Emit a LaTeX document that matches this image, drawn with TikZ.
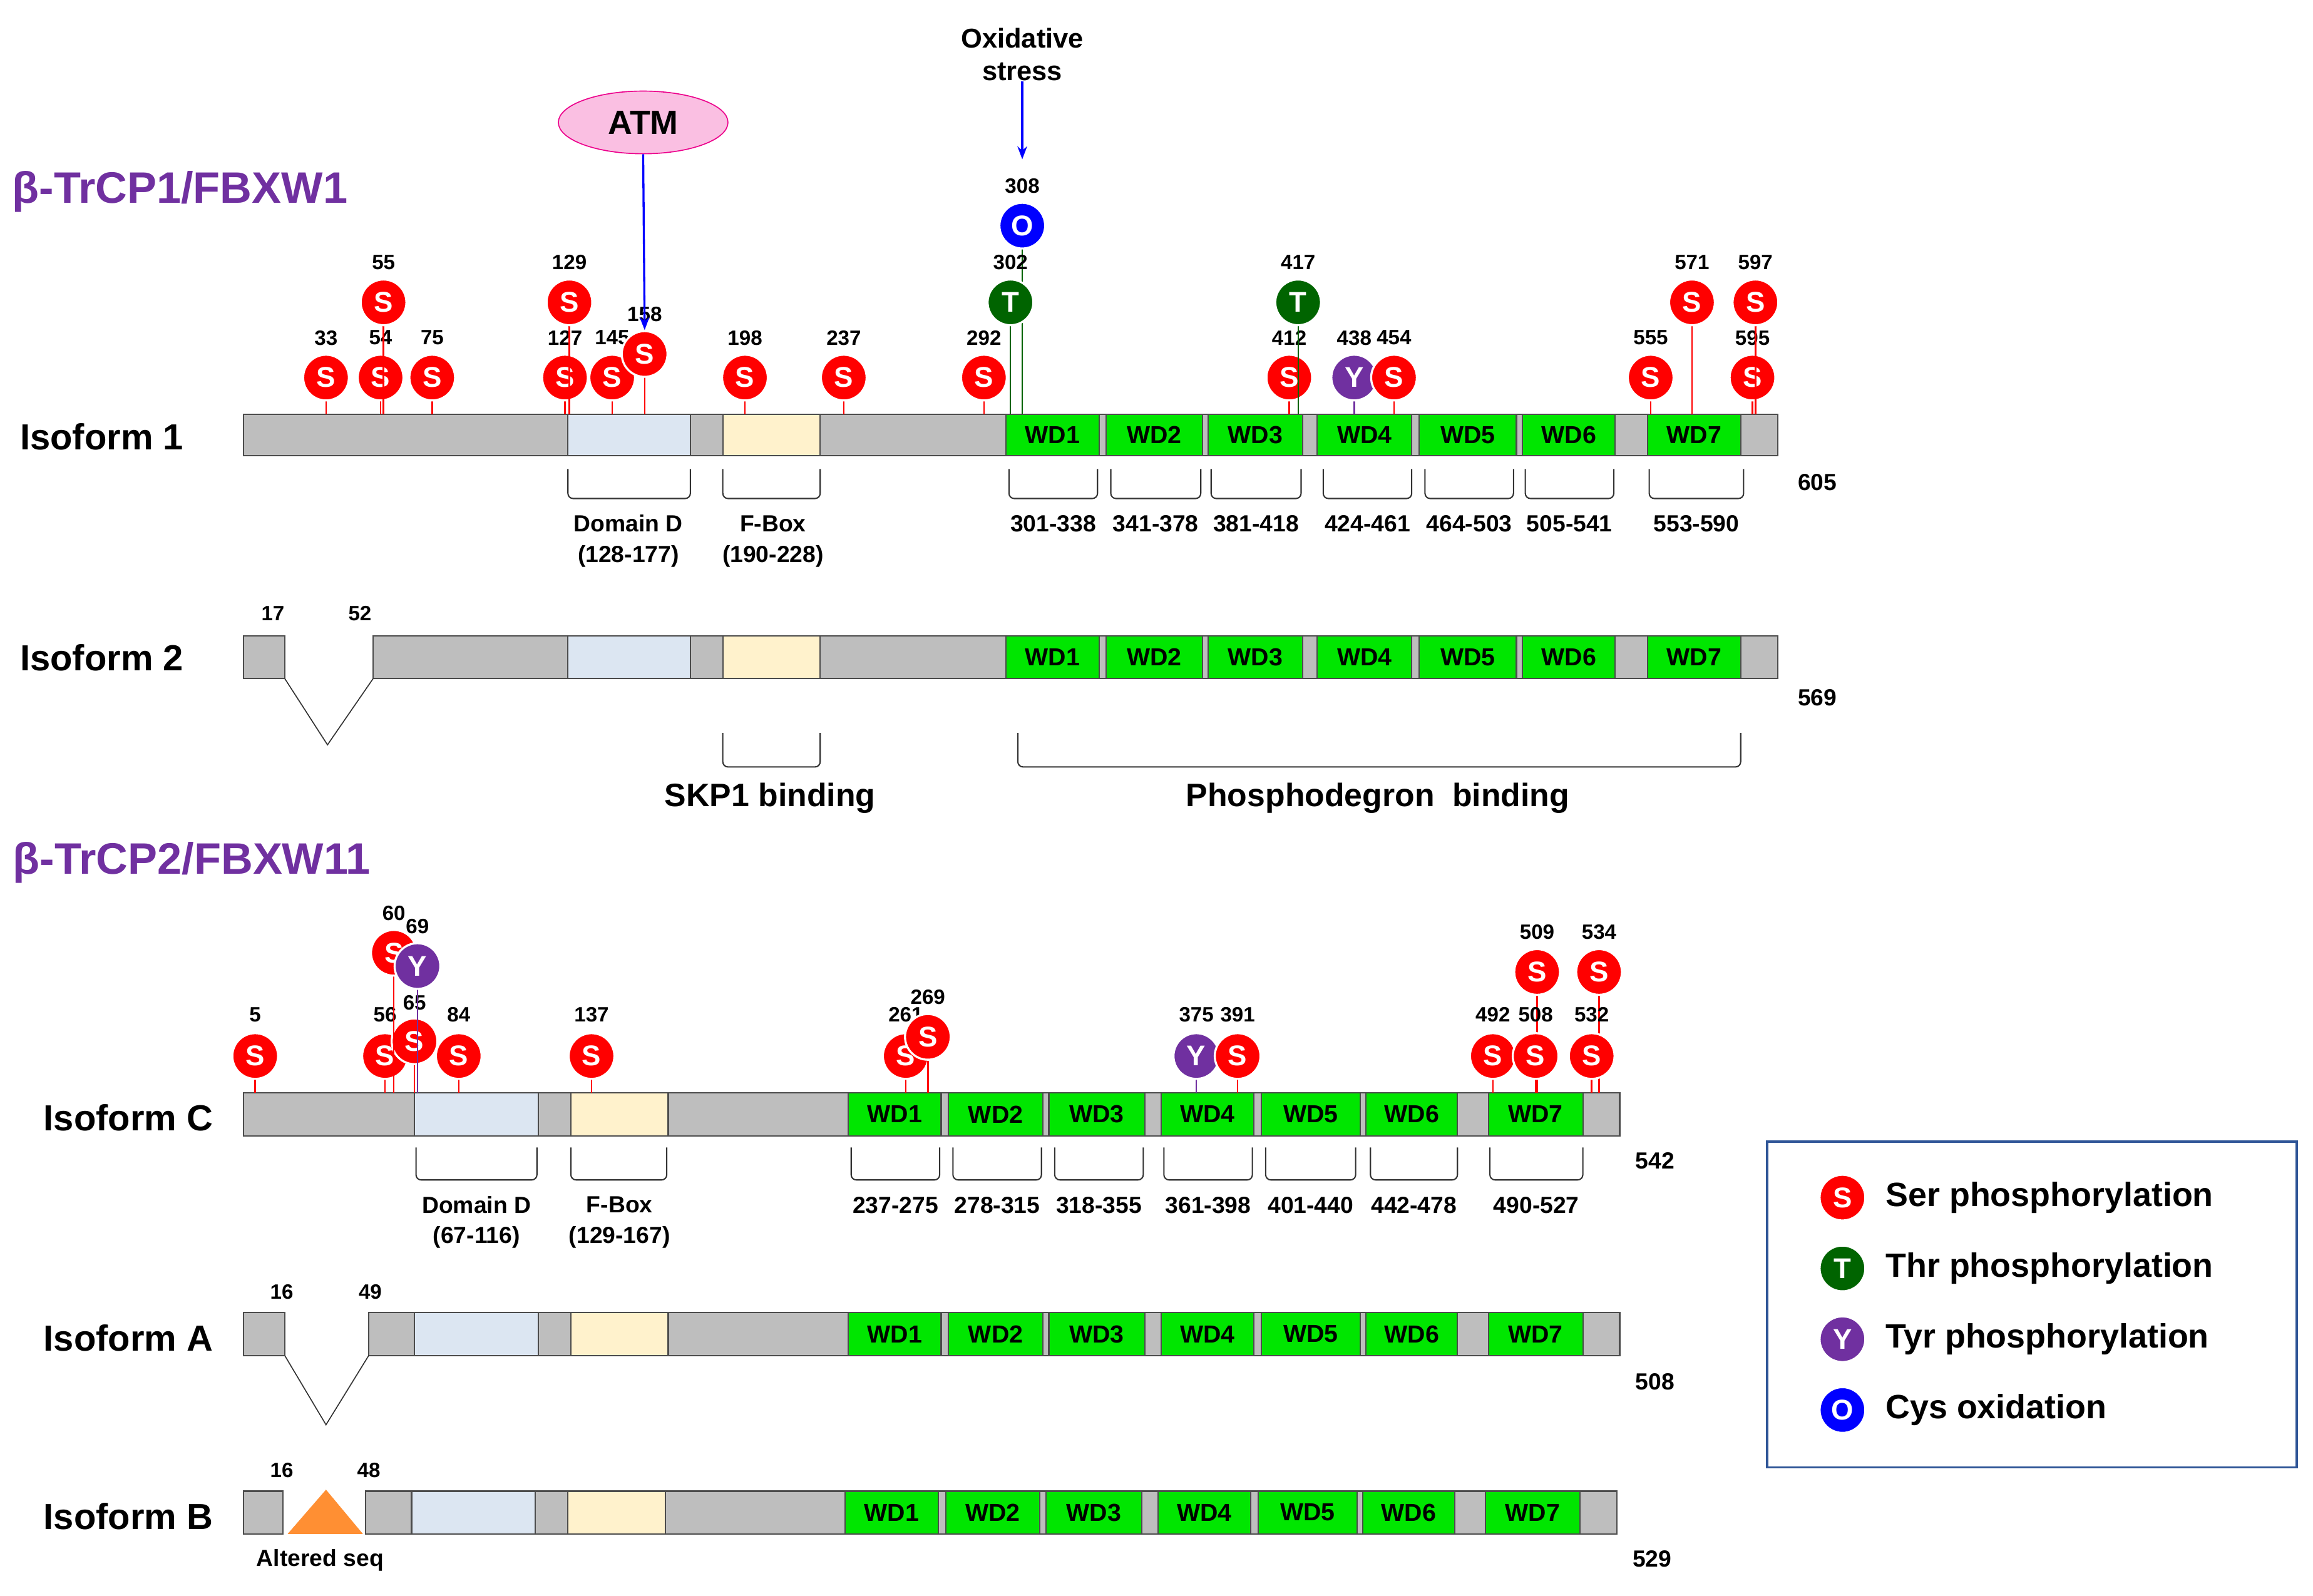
\documentclass[tikz,border=0pt]{standalone}
\usepackage{fontspec}
\setmainfont{Liberation Sans}
\usetikzlibrary{arrows.meta,shapes.geometric}
\definecolor{pur}{RGB}{112,48,160}
\definecolor{dgreen}{RGB}{0,100,0}
\definecolor{wdg}{RGB}{0,230,0}
\definecolor{dom}{RGB}{220,230,242}
\definecolor{fbx}{RGB}{255,242,204}
\definecolor{gry}{RGB}{190,190,190}
\begin{document}
\begin{tikzpicture}[x=0.02cm,y=-0.02cm,
 site/.style={circle,draw=white,line width=0.8pt,minimum size=0.62cm,inner sep=0,text=white,font=\bfseries\fontsize{11}{11}\selectfont},
 ser/.style={site,fill=red}, thr/.style={site,fill=dgreen}, tyr/.style={site,fill=pur}, cys/.style={site,fill=blue,draw=white},
 num/.style={font=\bfseries\fontsize{8}{8}\selectfont,inner sep=0},
 seg/.style={draw=black!70,line width=0.5pt},
 wdt/.style={font=\bfseries\fontsize{9.5}{9.5}\selectfont},
 rng/.style={font=\bfseries\fontsize{9}{9}\selectfont,inner sep=0},
 iso/.style={font=\bfseries\fontsize{14}{14}\selectfont,inner sep=0},
 ttl/.style={font=\bfseries\fontsize{17}{17}\selectfont,text=pur,inner sep=0},
 brk/.style={draw=black!80,line width=0.5pt,rounded corners=2pt},
 lgt/.style={font=\bfseries\fontsize{13}{13}\selectfont,anchor=west,inner sep=0}]
\useasboundingbox (0,0) rectangle (1568,1082);
% ---------- bar macro
\newcommand\mybar[3]{% y1 y2 list of x1/x2/fill/text
 \foreach \a/\b/\f/\t in {#3}{\filldraw[seg,fill=\f] (\a,#1) rectangle (\b,#2) node[midway,wdt]{\t};}}
% Titles
\node[ttl] (t1) at (122,130) {β-TrCP1/FBXW1};
\node[ttl] (t2) at (130,585) {β-TrCP2/FBXW11};
% Isoform 1
\node[iso] (i1) at (69,296) {Isoform 1};
\mybar{281}{309}{165/385/gry/,385/468/dom/,468/490/gry/,490/556/fbx/,556/682/gry/,682/745/wdg/WD1,745/750/gry/,750/815/wdg/WD2,815/819/gry/,819/883/wdg/WD3,883/893/gry/,893/957/wdg/WD4,957/962/gry/,962/1028/wdg/WD5,1028/1032/gry/,1032/1095/wdg/WD6,1095/1117/gry/,1117/1180/wdg/WD7,1180/1205/gry/}
\foreach \a/\b/\l [count=\i] in {385/468/,490/556/,684/744/301-338,753/814/341-378,821/882/381-418,897/957/424-461,966/1026/464-503,1034/1094/505-541,1118/1182/553-590}{
 \draw[brk] (\a,318)--(\a,338)--(\b,338)--(\b,318);
 \node[rng] (r1\i) at ({(\a+\b)/2},355) {\l};}
\node[rng] (dd1) at (426,355) {Domain D};
\node[rng] (dd1b) at (426,377) {(128-177)};
\node[rng] (fb1) at (524,355) {F-Box};
\node[rng] (fb1b) at (524,377) {(190-228)};
\node[num,font=\bfseries\fontsize{9}{9}\selectfont] (e1) at (1232,327) {605};
% sites isoform 1
\foreach \x/\y/\s/\c/\L/\n in {221/256/ser/red/S/33,258/256/ser/red/S/54,293/256/ser/red/S/75,383/256/ser/red/S/127,415/256/ser/red/S/145,505/256/ser/red/S/198,572/256/ser/red/S/237,667/256/ser/red/S/292,874/256/ser/red/S/412,1119/256/ser/red/S/555,1188/256/ser/red/S/595,260/205/ser/red/S/55,386/205/ser/red/S/129,437/240/ser/red/S/158,693/153/cys/dgreen/O/308,685/205/thr/dgreen/T/302,880/205/thr/dgreen/T/417,918/256/tyr/pur/Y/438,945/256/ser/red/S/454,1147/205/ser/red/S/571,1190/205/ser/red/S/597}{
 \draw[\c,line width=0.6pt] (\x,281)--(\x,\y);
 \node[\s] (s1-\n) at (\x,\y) {\L};
 \node[num] (l1-\n) at (\x,\y-27) {\n};}
% ATM and oxidative stress
\node[ellipse,draw=magenta,fill=magenta!25,minimum width=2.3cm,minimum height=0.85cm,font=\bfseries\fontsize{13}{13}\selectfont] (atm) at (436,83) {ATM};
\draw[-{Stealth[length=5pt]},blue,line width=0.8pt] (atm.south) -- (s1-158.north);
\node[rng,font=\bfseries\fontsize{10.5}{10.5}\selectfont,align=center] (ox) at (693,37) {Oxidative\\[2pt]stress};
\draw[-{Stealth[length=5pt]},blue,line width=0.8pt] (ox.south) -- (693,108);
% Isoform 2
\node[iso] (i2) at (69,446) {Isoform 2};
\mybar{431}{460}{165/193/gry/,253/385/gry/,385/468/dom/,468/490/gry/,490/556/fbx/,556/682/gry/,682/745/wdg/WD1,745/750/gry/,750/815/wdg/WD2,815/819/gry/,819/883/wdg/WD3,883/893/gry/,893/957/wdg/WD4,957/962/gry/,962/1028/wdg/WD5,1028/1032/gry/,1032/1095/wdg/WD6,1095/1117/gry/,1117/1180/wdg/WD7,1180/1205/gry/}
\coordinate (v2) at (222,505);
\draw[black!80] (193,460)--(v2)--(253,460);
\node[num] (n17) at (185,416) {17};
\node[num] (n52) at (244,416) {52};
\node[num,font=\bfseries\fontsize{9}{9}\selectfont] (e2) at (1232,473) {569};
\draw[brk] (490,497)--(490,520)--(556,520)--(556,497);
\draw[brk] (690,497)--(690,520)--(1180,520)--(1180,497);
\node[iso,font=\bfseries\fontsize{12.5}{12.5}\selectfont] (skp) at (522,541) {SKP1 binding};
\node[iso,font=\bfseries\fontsize{12.5}{12.5}\selectfont] (pho) at (934,541) {Phosphodegron\ \ binding};
% Isoform C
\node[iso] (ic) at (87,758) {Isoform C};
\mybar{741}{770}{165/281/gry/,281/365/dom/,365/387/gry/,387/453/fbx/,453/575/gry/,575/638/wdg/WD1,638/643/gry/,643/707/wdg/WD2,707/711/gry/,711/776/wdg/WD3,776/787/gry/,787/850/wdg/WD4,850/855/gry/,855/922/wdg/WD5,922/926/gry/,926/988/wdg/WD6,988/1009/gry/,1009/1073/wdg/WD7,1073/1098/gry/}
\foreach \a/\b/\l [count=\i] in {282/364/,387/452/,577/637/237-275,646/706/278-315,715/775/318-355,789/849/361-398,858/919/401-440,929/988/442-478,1010/1073/490-527}{
 \draw[brk] (\a,778)--(\a,800)--(\b,800)--(\b,778);
 \node[rng] (rc\i) at ({(\a+\b)/2},817) {\l};}
\node[rng] (ddc) at (323,817) {Domain D};
\node[rng] (ddcb) at (323,839) {(67-116)};
\node[rng] (fbc) at (420,817) {F-Box};
\node[rng] (fbcb) at (420,839) {(129-167)};
\node[num,font=\bfseries\fontsize{9}{9}\selectfont] (ec) at (1122,787) {542};
\foreach \x/\y/\s/\c/\L/\n/\ly in {173/716/ser/red/S/5/688,261/716/ser/red/S/56/688,311/716/ser/red/S/84/688,401/716/ser/red/S/137/688,614/716/ser/red/S/261/688,629/703/ser/red/S/269/676,281/706/ser/red/S/65/680,267/646/ser/red/S/60/619,283/655/tyr/pur/Y/69/628,811/716/tyr/pur/Y/375/688,839/716/ser/red/S/391/688,1012/716/ser/red/S/492/688,1042/659/ser/red/S/509/632,1041/716/ser/red/S/508/688,1084/659/ser/red/S/534/632,1079/716/ser/red/S/532/688}{
 \draw[\c,line width=0.6pt] (\x,741)--(\x,\y);
 \node[\s] (sc-\n) at (\x,\y) {\L};
 \node[num] (lc-\n) at (\x,\ly) {\n};}
% Isoform A
\node[iso] (ia) at (87,907) {Isoform A};
\mybar{890}{919}{165/193/gry/,250/281/gry/,281/365/dom/,365/387/gry/,387/453/fbx/,453/575/gry/,575/638/wdg/WD1,638/643/gry/,643/707/wdg/WD2,707/711/gry/,711/776/wdg/WD3,776/787/gry/,787/850/wdg/WD4,850/855/gry/,855/922/wdg/WD5,922/926/gry/,926/988/wdg/WD6,988/1009/gry/,1009/1073/wdg/WD7,1073/1098/gry/}
\coordinate (va) at (221,966);
\draw[black!80] (193,919)--(va)--(250,919);
\node[num] (n16a) at (191,876) {16};
\node[num] (n49) at (251,876) {49};
\node[num,font=\bfseries\fontsize{9}{9}\selectfont] (ea) at (1122,937) {508};
% Isoform B
\node[iso] (ib) at (87,1028) {Isoform B};
\mybar{1011}{1040}{165/192/gry/,248/279/gry/,279/363/dom/,363/385/gry/,385/451/fbx/,451/573/gry/,573/636/wdg/WD1,636/641/gry/,641/705/wdg/WD2,705/709/gry/,709/774/wdg/WD3,774/785/gry/,785/848/wdg/WD4,848/853/gry/,853/920/wdg/WD5,920/924/gry/,924/986/wdg/WD6,986/1007/gry/,1007/1071/wdg/WD7,1071/1096/gry/}
\fill[orange!90!red!80] (195,1040)--(221,1010)--(246,1040)--cycle;
\node[num] (n16b) at (191,997) {16};
\node[num] (n48) at (250,997) {48};
\node[num,font=\bfseries\fontsize{9}{9}\selectfont] (alt) at (217,1058) {Altered seq};
\node[num,font=\bfseries\fontsize{9}{9}\selectfont] (eb) at (1120,1057) {529};
% Legend
\draw[draw={rgb,255:red,47;green,85;blue,151},line width=0.8pt] (1198,774) rectangle (1557,995);
\foreach \y/\s/\L/\t in {812/ser/S/Ser phosphorylation,860/thr/T/Thr phosphorylation,908/tyr/Y/Tyr phosphorylation,956/cys/O/Cys oxidation}{
 \node[\s] (lg\L) at (1249,\y) {\L};
 \node[lgt] (lt\L) at (1278,\y) {\t};}
\end{tikzpicture}
\end{document}
